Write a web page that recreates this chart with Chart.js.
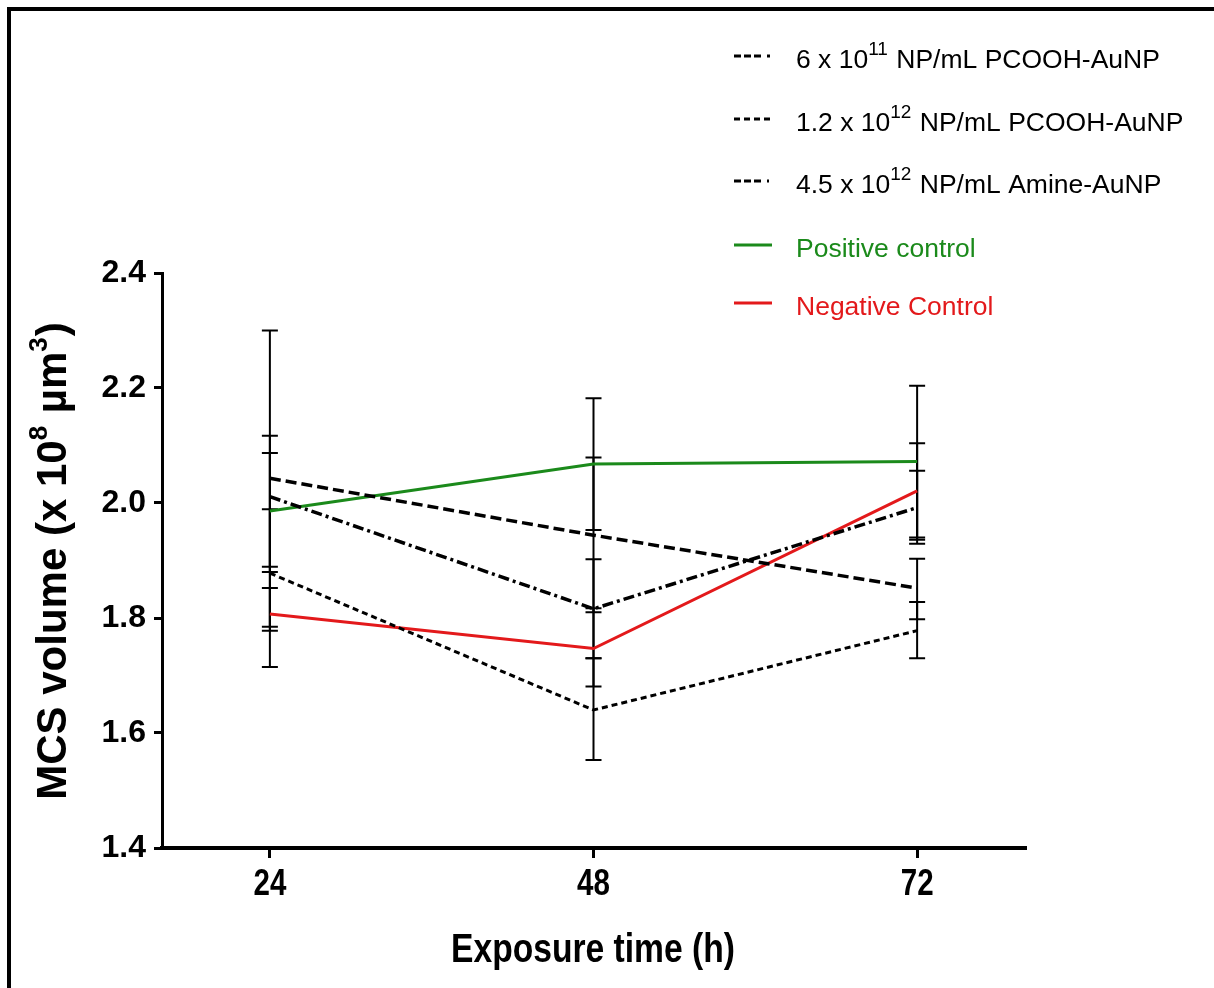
<!DOCTYPE html>
<html>
<head>
<meta charset="utf-8">
<script src="https://cdn.jsdelivr.net/npm/chart.js@4.4.1/dist/chart.umd.min.js"></script>
<style>
  body { margin: 0; background: #fff; }
  canvas { display: block; }
</style>
</head>
<body>
<canvas id="mcsChart" width="1214" height="988"></canvas>
<script>
// exposure times (h) and y ticks
const hours = [24, 48, 72];
const yTicks = [1.4, 1.6, 1.8, 2.0, 2.2, 2.4];

// mean MCS volume (x 10^8 um^3) per group
const pcoohLow = [2.043, 1.944, 1.852];
const pcoohHigh = [1.878, 1.640, 1.778];
const amine = [2.011, 1.816, 1.992];
const positive = [1.986, 2.068, 2.072];
const negative = [1.807, 1.747, 2.021];

// error bar ends (upper / lower)
const pcoohLowUp = [2.300, 2.079, 1.903];
const pcoohLowDn = [1.785, 1.810, 1.798];
const pcoohHighUp = [1.989, 1.730, 1.828];
const pcoohHighDn = [1.778, 1.553, 1.730];
const amineUp = [2.117, 1.902, 2.056];
const amineDn = [1.889, 1.730, 1.929];
const positiveUp = [2.087, 2.182, 2.204];
const positiveDn = [1.880, 1.953, 1.940];
const negativeUp = [1.852, 1.817, 2.104];
const negativeDn = [1.715, 1.681, 1.936];

const GREEN = '#1b8a1b';
const RED = '#e3191b';
const SANS = '"Liberation Sans", Arial, sans-serif';
const NARROW_SCALE = 0.82; // squeeze bold sans into an Arial Narrow look

const dashA = [11, 5];
const dashB = [6, 4];
const dashC = [11, 4, 3, 4];

function pts(values) {
    return values.map((v, i) => ({ x: hours[i], y: v }));
}

function series(label, values, up, dn, color, dash, width) {
    return {
        label: label,
        data: pts(values),
        errUp: up,
        errDn: dn,
        borderColor: color,
        borderDash: dash,
        borderWidth: width,
        borderCapStyle: 'butt',
        pointRadius: 0,
        tension: 0,
        fill: false
    };
}

// legend rows: line sample + label with a superscript part
const legendRows = [
    { y: 56, color: '#000', dash: [7, 3, 7, 3, 7, 6, 3, 10], text: ['6 x 10', '11', ' NP/mL PCOOH-AuNP'] },
    { y: 119, color: '#000', dash: [6, 4], text: ['1.2 x 10', '12', ' NP/mL PCOOH-AuNP'] },
    { y: 181, color: '#000', dash: [7, 3, 7, 3, 7, 6, 2, 10], text: ['4.5 x 10', '12', ' NP/mL Amine-AuNP'] },
    { y: 245, color: GREEN, dash: [], text: ['Positive control'] },
    { y: 303, color: RED, dash: [], text: ['Negative Control'] }
];

// draws a string made of normal / superscript pieces, returns end x
function drawPieces(ctx, pieces, x, y, size, weight, supRatio, rise) {
    pieces.forEach((p, i) => {
        const sup = i % 2 === 1;
        ctx.font = weight + ' ' + (sup ? Math.round(size * supRatio) : size) + 'px ' + SANS;
        ctx.fillText(p, x, y - (sup ? size * rise : 0));
        x += ctx.measureText(p).width + (sup ? 1 : 0);
    });
    return x;
}

function piecesWidth(ctx, pieces, size, weight, supRatio) {
    let w = 0;
    pieces.forEach((p, i) => {
        const sup = i % 2 === 1;
        ctx.font = weight + ' ' + (sup ? Math.round(size * supRatio) : size) + 'px ' + SANS;
        w += ctx.measureText(p).width + (sup ? 1 : 0);
    });
    return w;
}

function narrowText(ctx, text, cx, baseline, size) {
    ctx.save();
    ctx.translate(cx, baseline);
    ctx.scale(NARROW_SCALE, 1);
    ctx.font = 'bold ' + size + 'px ' + SANS;
    ctx.textAlign = 'center';
    ctx.textBaseline = 'alphabetic';
    ctx.fillText(text, 0, 0);
    ctx.restore();
}

const errorBars = {
    id: 'errorBars',
    beforeDatasetsDraw(chart) {
        const { ctx, scales: { x, y } } = chart;
        ctx.save();
        ctx.strokeStyle = '#000';
        ctx.lineWidth = 2;
        chart.data.datasets.forEach(ds => {
            ds.errUp.forEach((hi, i) => {
                const px = x.getPixelForValue(hours[i]);
                const top = y.getPixelForValue(hi);
                const bot = y.getPixelForValue(ds.errDn[i]);
                ctx.beginPath();
                ctx.moveTo(px, top); ctx.lineTo(px, bot);
                ctx.moveTo(px - 8, top); ctx.lineTo(px + 8, top);
                ctx.moveTo(px - 8, bot); ctx.lineTo(px + 8, bot);
                ctx.stroke();
            });
        });
        ctx.restore();
    }
};

const decorations = {
    id: 'decorations',
    afterDraw(chart) {
        const ctx = chart.ctx;
        const xScale = chart.scales.x;
        ctx.save();

        // outer frame
        ctx.strokeStyle = '#000';
        ctx.lineWidth = 4;
        ctx.strokeRect(9, 9, 1230, 1000);

        // legend
        legendRows.forEach(row => {
            ctx.strokeStyle = row.color;
            ctx.lineWidth = 3;
            ctx.setLineDash(row.dash);
            ctx.beginPath();
            ctx.moveTo(734, row.y);
            ctx.lineTo(772, row.y);
            ctx.stroke();
            ctx.setLineDash([]);
            ctx.fillStyle = row.color;
            ctx.textBaseline = 'alphabetic';
            ctx.textAlign = 'left';
            drawPieces(ctx, row.text, 796, row.y + 12, 26.5, 'normal', 0.7, 0.5);
        });

        // x tick labels (narrow bold)
        ctx.fillStyle = '#000';
        xScale.ticks.forEach(t => {
            narrowText(ctx, String(t.value), xScale.getPixelForValue(t.value), 895, 36);
        });

        // x axis title
        narrowText(ctx, 'Exposure time (h)', 593, 962, 41);

        // y axis title
        const yTitle = ['MCS volume (x 10', '8', ' \u00b5m', '3', ')'];
        ctx.translate(66, 561);
        ctx.rotate(-Math.PI / 2);
        const w = piecesWidth(ctx, yTitle, 42, 'bold', 0.62);
        ctx.textAlign = 'left';
        drawPieces(ctx, yTitle, -w / 2, 0, 42, 'bold', 0.62, 0.45);

        ctx.restore();
    }
};

new Chart(document.getElementById('mcsChart'), {
    type: 'line',
    data: {
        datasets: [
            series('6 x 10^11 NP/mL PCOOH-AuNP', pcoohLow, pcoohLowUp, pcoohLowDn, '#000', dashA, 3.5),
            series('1.2 x 10^12 NP/mL PCOOH-AuNP', pcoohHigh, pcoohHighUp, pcoohHighDn, '#000', dashB, 3),
            series('4.5 x 10^12 NP/mL Amine-AuNP', amine, amineUp, amineDn, '#000', dashC, 3.5),
            series('Positive control', positive, positiveUp, positiveDn, GREEN, [], 3),
            series('Negative Control', negative, negativeUp, negativeDn, RED, [], 3)
        ]
    },
    options: {
        responsive: false,
        animation: false,
        layout: { padding: { left: 0, top: 273, right: 189, bottom: 0 } },
        plugins: {
            legend: { display: false },
            tooltip: { enabled: false }
        },
        scales: {
            x: {
                type: 'linear',
                min: 16,
                max: 80,
                afterBuildTicks: scale => { scale.ticks = hours.map(v => ({ value: v })); },
                afterFit: scale => { scale.height = 140; },
                border: { display: true, color: '#000', width: 4 },
                grid: { drawOnChartArea: false, drawTicks: true, tickLength: 10, color: '#000', lineWidth: 3 },
                ticks: { display: false }
            },
            y: {
                min: 1.4,
                max: 2.4,
                afterBuildTicks: scale => { scale.ticks = yTicks.map(v => ({ value: v })); },
                afterFit: scale => { scale.width = 162; },
                border: { display: true, color: '#000', width: 3 },
                grid: { drawOnChartArea: false, drawTicks: true, tickLength: 8, color: '#000', lineWidth: 3 },
                ticks: {
                    color: '#000',
                    padding: 8,
                    callback: v => v.toFixed(1),
                    font: { family: SANS, size: 32, weight: 'bold' }
                }
            }
        }
    },
    plugins: [errorBars, decorations]
});
</script>
</body>
</html>
